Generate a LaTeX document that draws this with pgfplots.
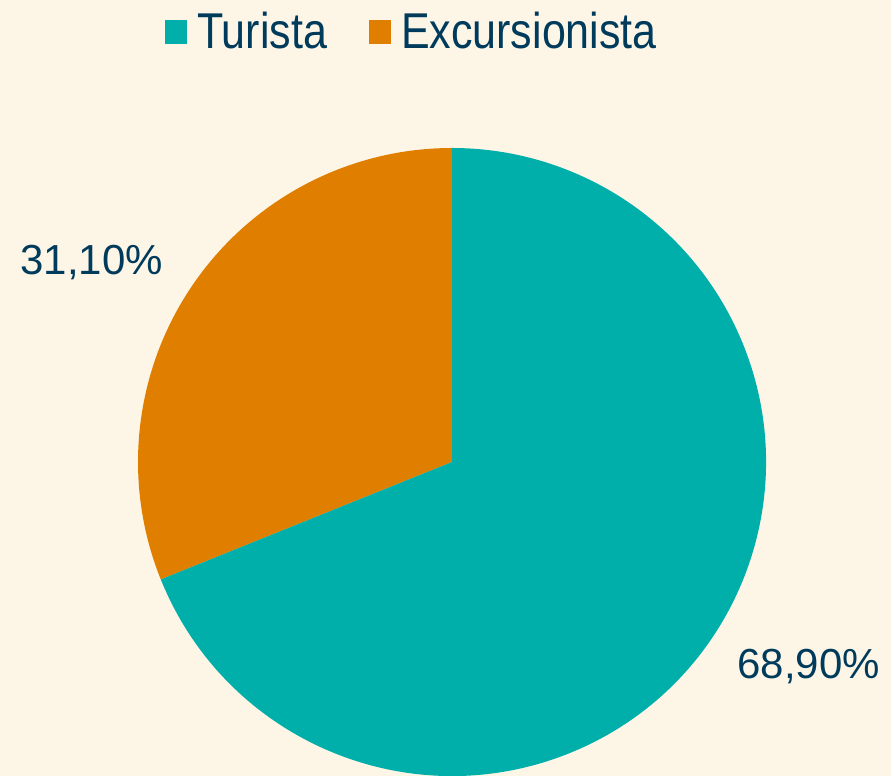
\documentclass[border=0pt]{standalone}
\usepackage{fontspec}
\setmainfont{Liberation Sans}
\usepackage{pgfplots}
\usepackage{pgfplotstable}
\pgfplotsset{compat=1.18}
\definecolor{bg}{RGB}{253,246,231}
\definecolor{tealc}{RGB}{0,175,170}
\definecolor{orangec}{RGB}{224,126,0}
\definecolor{navy}{RGB}{0,59,92}
\pgfplotstableread{
label value
Turista 68.9
Excursionista 31.1
}\piedata
\begin{document}%
\begin{tikzpicture}
\pgfplotstablegetelem{1}{value}\of\piedata
\pgfmathsetmacro{\angB}{90+3.6*\pgfplotsretval}
\begin{axis}[
  width=445.5pt, height=388pt, scale only axis,
  xmin=0, xmax=891, ymin=0, ymax=776,
  hide axis, clip=false,
  legend columns=2,
  legend cell align=left,
  legend style={draw=none, fill=none, at={(axis cs:413,744)}, anchor=center,
    font=\fontsize{21.5pt}{24pt}\selectfont, text=navy,
    /tikz/every even column/.append style={column sep=19pt}},
  legend image code/.code={\fill[#1] (0pt,-6pt) rectangle (11pt,6pt); \path (14pt,0pt);},
]
\fill[bg] (axis cs:0,0) rectangle (axis cs:891,776);
\fill[orangec] (axis cs:452,314) -- ++(90:157pt) arc[start angle=90, end angle=\angB, radius=157pt] -- cycle;
\fill[tealc] (axis cs:452,314) -- ++(\angB:157pt) arc[start angle=\angB, end angle=450, radius=157pt] -- cycle;
\addlegendimage{fill=tealc, draw=none}
\addlegendentry{\scalebox{1}[1.17]{Turista}}
\addlegendimage{fill=orangec, draw=none}
\addlegendentry{\scalebox{1}[1.17]{Excursionista}}
\node[anchor=base west, inner sep=0pt, text=navy, font=\fontsize{21pt}{24pt}\selectfont] at (axis cs:20,501) {31,10\%};
\node[anchor=base west, inner sep=0pt, text=navy, font=\fontsize{21pt}{24pt}\selectfont] at (axis cs:737,97) {68,90\%};
\end{axis}
\pgfresetboundingbox
\useasboundingbox (0,0) rectangle (445.5pt,388pt);
\end{tikzpicture}%
\end{document}
